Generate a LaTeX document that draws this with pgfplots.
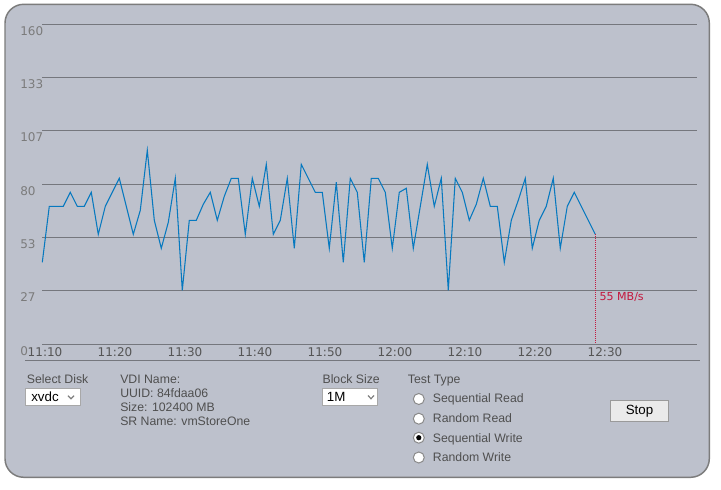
\documentclass[border=0pt]{standalone}
\usepackage{pgfplots}
\pgfplotsset{compat=1.18}
\usepackage{fontspec}
\setmainfont{Liberation Sans}
\newfontfamily\chartfont{DejaVu Sans}
\definecolor{panelbg}{HTML}{BDC1CC}
\definecolor{panelborder}{HTML}{7C7C7C}
\definecolor{gridc}{HTML}{75777D}
\definecolor{linec}{HTML}{0779BF}
\definecolor{ytext}{HTML}{7B7B7B}
\definecolor{xtext}{HTML}{555555}
\definecolor{uitext}{HTML}{4F4F4F}
\definecolor{redc}{HTML}{C4173D}
\definecolor{boxborder}{HTML}{A8A8A8}
\definecolor{btnborder}{HTML}{9A9A9A}
\definecolor{btnfill}{HTML}{EAEAEA}
\definecolor{radioborder}{HTML}{8A8A8A}

\pgfplotstableread{
i v
0 41
1 69
2 69
3 69
4 76
5 69
6 69
7 76
8 55
9 69
10 76
11 83
12 69
13 55
14 67
15 97
16 62
17 48
18 61
19 83
20 27
21 62
22 62
23 70
24 76
25 62
26 74
27 83
28 83
29 55
30 83
31 69
32 90
33 55
34 62
35 83
36 48
37 90
38 83
39 76
40 76
41 48
42 81
43 41
44 83
45 76
46 41
47 83
48 83
49 76
50 48
51 76
52 78
53 48
54 69
55 90
56 69
57 83
58 27
59 83
60 76
61 62
62 70
63 83
64 69
65 69
66 41
67 62
68 72
69 83
70 48
71 62
72 69
73 83
74 48
75 69
76 76
77 69
78 62
79 55
}\speeddata

\begin{document}
\begin{tikzpicture}
% pixel coordinate scope (y downward)
\begin{scope}[x=0.75pt,y=-0.75pt,shift={(0pt,366.75pt)}]
  \path[use as bounding box, fill=white] (0,0) rectangle (721,489);
  \draw[draw=panelborder, line width=1.1pt, fill=panelbg, rounded corners=14pt] (5,4.3) rectangle (709.3,477.3);
  \draw[gridc, line width=0.75pt] (25,361) -- (700,361);
\end{scope}

\begin{axis}[
  at={(31.725pt,108.525pt)}, anchor=south west,
  scale only axis, width=490.8pt, height=240pt,
  xmin=0, xmax=93.49, ymin=0, ymax=160,
  axis line style={draw=none},
  major tick style={draw=none},
  ytick={0,26.6667,53.3333,80,106.6667,133.3333,160},
  yticklabels={0,27,53,80,107,133,160},
  xtick={0.39,10.39,20.39,30.39,40.39,50.39,60.39,70.39,80.39},
  xticklabels={11:10,11:20,11:30,11:40,11:50,12:00,12:10,12:20,12:30},
  ymajorgrids,
  grid style={color=gridc, line width=0.75pt},
  yticklabel style={anchor=north west, inner sep=0pt, xshift=-16.725pt, yshift=-1.3pt,
    font=\chartfont\fontsize{9pt}{10pt}\selectfont, text=ytext},
  xticklabel style={anchor=north, inner sep=0pt, yshift=-2pt,
    font=\chartfont\fontsize{9pt}{10pt}\selectfont, text=xtext},
  clip=false,
]
\addplot[linec, line width=0.8pt, mark=none] table[x=i, y=v] {\speeddata};
\addplot[redc, line width=0.75pt, dash pattern=on 0.75pt off 0.75pt, mark=none] coordinates {(79,55) (79,0)};
\node[anchor=north west, inner sep=0pt, text=redc, font=\chartfont\fontsize{8.3pt}{9pt}\selectfont] at (axis cs:79.57,26) {55 MB/s};
\end{axis}

\begin{scope}[x=0.75pt,y=-0.75pt,shift={(0pt,366.75pt)}]
  \begin{scope}[every node/.style={inner sep=0pt, anchor=base west, text=uitext, font=\fontsize{9.2pt}{11pt}\selectfont}]
    \node at (26.7,383.6) {Select Disk};
    \node at (120,383.6) {VDI Name:};
    \node at (120,397.9) {UUID: 84fdaa06};
    \node at (120,411.8) {Size: 102400 MB};
    \node at (120,425.7) {SR Name: vmStoreOne};
    \node at (322.3,383.6) {Block Size};
    \node at (407.7,383.6) {Test Type};
    \node at (432.7,402.9) {Sequential Read};
    \node at (432.7,422.6) {Random Read};
    \node at (432.7,442.3) {Sequential Write};
    \node at (432.7,461.9) {Random Write};
  \end{scope}
  % dropdowns
  \draw[boxborder, fill=white, line width=0.75pt] (25.7,389) rectangle (80,406);
  \node[inner sep=0pt, anchor=base west, font=\fontsize{10pt}{12pt}\selectfont] at (31,402) {xvdc};
  \draw[gray, line width=0.9pt] (68,395.7) -- (71,398.8) -- (74,395.7);
  \draw[boxborder, fill=white, line width=0.75pt] (322.3,389) rectangle (377.3,406);
  \node[inner sep=0pt, anchor=base west, font=\fontsize{10pt}{12pt}\selectfont] at (326.7,402) {1M};
  \draw[gray, line width=0.9pt] (368,395.5) -- (371,398.7) -- (374,395.5);
  % radios
  \foreach \yy in {399,418.7,437.7,457.5} {
    \draw[radioborder, fill=white, line width=0.75pt] (418.8,\yy) circle[radius=5.5];
  }
  \fill[black] (418.8,437.7) circle[radius=2.6];
  % button
  \draw[btnborder, fill=btnfill, line width=0.75pt] (610.7,400.7) rectangle (668.3,421.7);
  \node[inner sep=0pt, font=\fontsize{10pt}{12pt}\selectfont] at (639.5,411.2) {Stop};
\end{scope}
\end{tikzpicture}
\end{document}
